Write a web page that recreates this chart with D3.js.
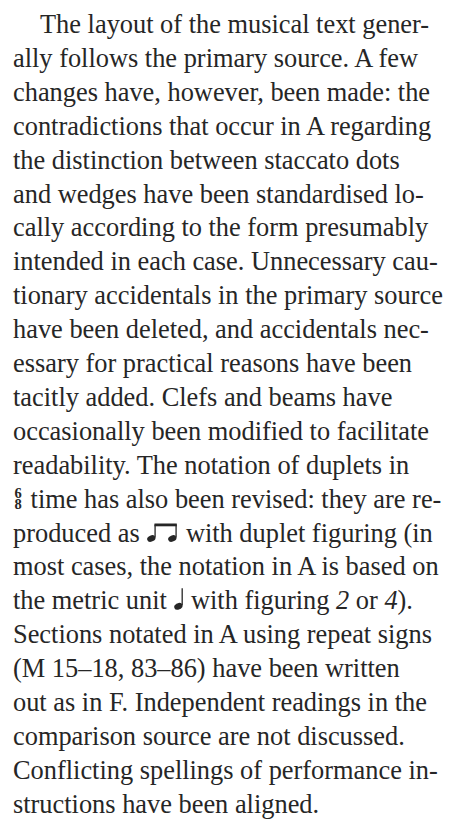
<!DOCTYPE html>
<html>
<head>
<meta charset="utf-8">
<script src="https://cdn.jsdelivr.net/npm/d3@7"></script>
<style>
  html, body { margin: 0; padding: 0; background: #fff; }
  svg { display: block; }
</style>
</head>
<body>
<div id="page"></div>
<script>
// Text lines; tokens in braces are symbols drawn as shapes
const lines = [
  "The layout of the musical text gener-",
  "ally follows the primary source. A few",
  "changes have, however, been made: the",
  "contradictions that occur in A regarding",
  "the distinction between staccato dots",
  "and wedges have been standardised lo-",
  "cally according to the form presumably",
  "intended in each case. Unnecessary cau-",
  "tionary accidentals in the primary source",
  "have been deleted, and accidentals nec-",
  "essary for practical reasons have been",
  "tacitly added. Clefs and beams have",
  "occasionally been modified to facilitate",
  "readability. The notation of duplets in",
  "{timesig} time has also been revised: they are re-",
  "produced as {eighths} with duplet figuring (in",
  "most cases, the notation in A is based on",
  "the metric unit {quarter} with figuring {i:2} or {i:4}).",
  "Sections notated in A using repeat signs",
  "(M 15\u201318, 83\u201386) have been written",
  "out as in F. Independent readings in the",
  "comparison source are not discussed.",
  "Conflicting spellings of performance in-",
  "structions have been aligned."
];
const timeSig = ["6", "8"];

const W = 454, H = 821;
const marginLeft = 13, indent = 40, firstBaseline = 33, leading = 33.9;
const ink = "#262626";
const font = "'Liberation Serif', 'Times New Roman', serif";
const fs = 27.5;

const svg = d3.select("#page").append("svg")
  .attr("width", W).attr("height", H);

// horizontal squeeze so a full line spans the measure (Bodoni is narrower than Times)
const probe = svg.append("text").attr("font-family", font).attr("font-size", fs)
  .text(lines[8]);
const sx = (443 - marginLeft) / probe.node().getComputedTextLength();
probe.remove();

function parse(line) {
  return line.split(/(\{[^}]+\})/).filter(s => s.length);
}

function noteHead(g, hx, y) {
  g.append("ellipse")
    .attr("cx", hx).attr("cy", y - 3)
    .attr("rx", 4.3).attr("ry", 3.1)
    .attr("transform", `rotate(-22,${hx},${y - 3})`)
    .attr("fill", ink);
}

lines.forEach((line, i) => {
  const y = firstBaseline + i * leading;
  let x = i === 0 ? indent : marginLeft;
  const g = svg.append("g");
  parse(line).forEach(tok => {
    if (tok === "{timesig}") {
      // stacked 6 over 8 in one text element
      g.append("text")
        .attr("text-anchor", "middle")
        .attr("font-family", font).attr("font-weight", "bold")
        .attr("font-size", 14.5).attr("fill", ink)
        .selectAll("tspan").data(timeSig).enter().append("tspan")
        .attr("x", x + 5)
        .attr("y", (d, k) => y - 10 + k * 11.5)
        .text(d => d);
      x += 11;
    } else if (tok === "{eighths}") {
      const heads = [x + 5, x + 26];
      heads.forEach(hx => {
        noteHead(g, hx, y);
        g.append("line")
          .attr("x1", hx + 3.8).attr("x2", hx + 3.8)
          .attr("y1", y - 4).attr("y2", y - 17)
          .attr("stroke", ink).attr("stroke-width", 1.3);
      });
      g.append("rect")
        .attr("x", heads[0] + 3.2).attr("y", y - 18)
        .attr("width", heads[1] - heads[0] + 1.3).attr("height", 2.8)
        .attr("fill", ink);
      x += 33;
    } else if (tok === "{quarter}") {
      const hx = x + 5;
      noteHead(g, hx, y);
      g.append("line")
        .attr("x1", hx + 3.8).attr("x2", hx + 3.8)
        .attr("y1", y - 4).attr("y2", y - 21)
        .attr("stroke", ink).attr("stroke-width", 1.3);
      x += 11;
    } else {
      const italic = tok.startsWith("{i:");
      const str = italic ? tok.slice(3, -1) : tok;
      const t = g.append("text")
        .attr("transform", `translate(${x},${y}) scale(${sx},1)`)
        .attr("font-family", font).attr("font-size", fs)
        .attr("font-style", italic ? "italic" : null)
        .attr("fill", ink)
        .attr("xml:space", "preserve")
        .style("white-space", "pre")
        .text(str);
      x += t.node().getComputedTextLength() * sx;
    }
  });
});
</script>
</body>
</html>
